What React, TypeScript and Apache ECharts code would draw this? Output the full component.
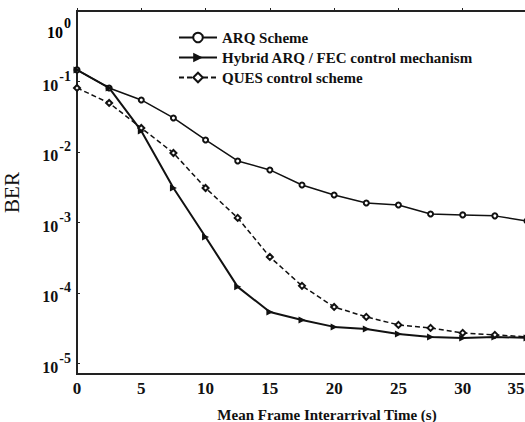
import React, { useEffect, useRef } from "react";
import * as echarts from "echarts";

const xValues = [0, 2.5, 5, 7.5, 10, 12.5, 15, 17.5, 20, 22.5, 25, 27.5, 30, 32.5, 35];
const arqBER = [0.146, 0.081, 0.0547, 0.0304, 0.0148, 0.00745, 0.00556, 0.0034, 0.00245, 0.00189, 0.00177, 0.00132, 0.00128, 0.00124, 0.00105];
const hybridBER = [0.146, 0.081, 0.0199, 0.00308, 0.000622, 0.000122, 5.37e-5, 4.14e-5, 3.3e-5, 3.08e-5, 2.62e-5, 2.38e-5, 2.3e-5, 2.38e-5, 2.3e-5];
const quesBER = [0.081, 0.0496, 0.0219, 0.00968, 0.00308, 0.00116, 0.000324, 0.000126, 6.33e-5, 4.57e-5, 3.52e-5, 3.19e-5, 2.71e-5, 2.54e-5, 2.38e-5];
const seriesNames = ["ARQ Scheme", "Hybrid ARQ / FEC control mechanism", "QUES control scheme"];
const yDecades = [-5, -4, -3, -2, -1];

const SERIF = "'Liberation Serif', 'Times New Roman', serif";

export default function App() {
  const ref = useRef<HTMLDivElement>(null);
  useEffect(() => {
    if (!ref.current) return;
    const chart = echarts.init(ref.current, null, { renderer: "svg" });
    const toPts = (arr: number[]) => xValues.map((x, i) => [x, Math.log10(arr[i])]);
    const rich = {
      b: { fontFamily: SERIF, fontWeight: "bold", fontSize: 16, color: "#111", lineHeight: 24, verticalAlign: "bottom" },
      s: { fontFamily: SERIF, fontWeight: "bold", fontSize: 14, color: "#111", lineHeight: 14, verticalAlign: "top", padding: [0, 0, 0, 1] },
    };
    const xLabelStyle = { fontFamily: SERIF, fontWeight: "bold", fontSize: 17, color: "#111" };
    chart.setOption({
      animation: false,
      backgroundColor: "#fff",
      grid: {
        left: 77,
        top: 11,
        width: 450,
        height: 363,
        show: true,
        borderColor: "#222",
        borderWidth: 2,
        backgroundColor: "transparent",
        containLabel: false,
        outerBoundsMode: "none",
      },
      legend: {
        left: 173,
        top: 25,
        orient: "vertical",
        itemWidth: 38,
        itemHeight: 12,
        itemGap: 5,
        data: seriesNames,
        textStyle: { fontFamily: SERIF, fontWeight: "bold", fontSize: 15, color: "#111" },
      },
      xAxis: {
        type: "value",
        min: 0,
        max: 35,
        interval: 5,
        name: "Mean Frame Interarrival Time (s)",
        nameLocation: "middle",
        nameGap: 33,
        nameTextStyle: { fontFamily: SERIF, fontWeight: "bold", fontSize: 15, color: "#111", padding: [0, 0, 0, 50] },
        axisLine: { lineStyle: { color: "#222", width: 2 } },
        axisTick: { inside: true, length: 3, lineStyle: { color: "#222" } },
        axisLabel: {
          ...xLabelStyle,
          margin: 6,
          formatter: (v: number) => (v === 35 ? `{e|${v}}` : `{n|${v}}`),
          rich: {
            n: xLabelStyle,
            e: { ...xLabelStyle, padding: [0, 22, 0, 0] },
          },
        },
        splitLine: { show: false },
      },
      yAxis: {
        type: "value",
        min: -5.15,
        max: 0,
        name: "BER",
        nameLocation: "middle",
        nameGap: 55,
        nameTextStyle: { fontFamily: SERIF, fontSize: 21, color: "#111" },
        axisLine: { lineStyle: { color: "#222", width: 2 } },
        axisTick: { inside: true, length: 3, customValues: yDecades, lineStyle: { color: "#222" } },
        axisLabel: {
          customValues: yDecades,
          margin: 6,
          formatter: (v: number) => (Number.isInteger(v) && v < 0 ? `{b|10}{s|${v}}` : ""),
          rich,
        },
        splitLine: { show: false },
      },
      graphic: [
        {
          type: "text",
          x: 71,
          y: 28,
          style: { text: "{b|10}{s|0}", rich, align: "right", verticalAlign: "middle" },
        },
      ],
      series: [
        {
          name: seriesNames[0],
          type: "line",
          data: toPts(arqBER),
          symbol: "emptyCircle",
          symbolSize: 5,
          lineStyle: { color: "#111", width: 1.5 },
          itemStyle: { color: "#111", borderWidth: 1.5 },
        },
        {
          name: seriesNames[1],
          type: "line",
          data: toPts(hybridBER),
          symbol: "triangle",
          symbolRotate: -90,
          symbolSize: 7,
          lineStyle: { color: "#111", width: 2 },
          itemStyle: { color: "#111" },
        },
        {
          name: seriesNames[2],
          type: "line",
          data: toPts(quesBER),
          symbol: "emptyDiamond",
          symbolSize: 6,
          lineStyle: { color: "#111", width: 1.5, type: [5, 3] },
          itemStyle: { color: "#111", borderWidth: 1.5 },
        },
      ],
    });
    return () => chart.dispose();
  }, []);
  return <div ref={ref} style={{ position: "fixed", left: 0, top: 0, width: 525, height: 422 }} />;
}
